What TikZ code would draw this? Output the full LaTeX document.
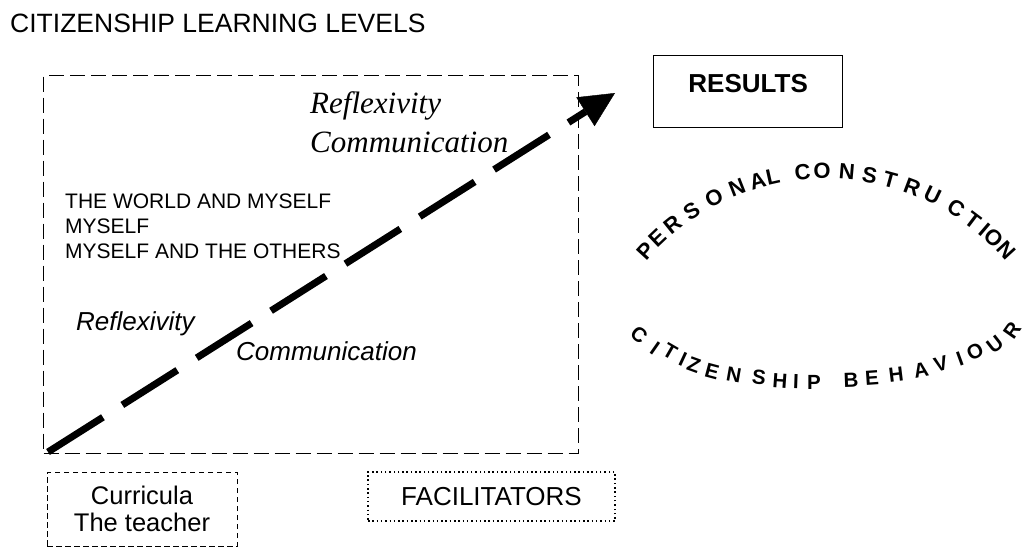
\documentclass[tikz,border=0pt]{standalone}
\usepackage{fontspec}
\setmainfont{Liberation Sans}
\newfontfamily\timesfont{Liberation Serif}
\usetikzlibrary{arrows.meta}

\begin{document}
\begin{tikzpicture}[x=1pt,y=1pt,
    txt/.style={inner sep=0pt,anchor=base west},
    levelbox/.style={draw,line width=1.3pt,dash pattern=on 15pt off 6pt},
    persletter/.style={inner sep=0pt,font=\bfseries\fontsize{22}{24}\selectfont},
    behletter/.style={inner sep=0pt,font=\bfseries\fontsize{20.5}{22}\selectfont}]
  \useasboundingbox (0,0) rectangle (1028,-547);

  \node[txt,font=\fontsize{26.5}{30}\selectfont] (title) at (10,-32) {CITIZENSHIP LEARNING LEVELS};

  \node[levelbox,minimum width=535,minimum height=378,anchor=north west] (levels) at (43,-75) {};

  \node[txt,align=left,font=\timesfont\itshape\fontsize{31}{39}\selectfont] (reflhi) at (310,-152) {Reflexivity\\Communication};
  \node[txt,align=left,font=\fontsize{21}{25}\selectfont] (world) at (65,-258) {THE WORLD AND MYSELF\\MYSELF\\MYSELF AND THE OTHERS};
  \node[txt,font=\itshape\fontsize{26}{30}\selectfont] (refllo) at (76,-330) {Reflexivity};
  \node[txt,font=\itshape\fontsize{26}{30}\selectfont] (commlo) at (236,-360) {Communication};

  \coordinate (lvlstart) at (48,-452);
  \coordinate (lvltip) at (615,-93);
  \draw[line width=7pt,dash pattern=on 65pt off 23pt,
    -{Triangle[length=35pt,width=34pt,line width=0.4pt]}] (lvlstart) -- (lvltip);

  \node[draw,line width=1.3pt,minimum width=189,inner sep=0pt,text height=37pt,text depth=35pt,
    anchor=north west,font=\bfseries\fontsize{26}{30}\selectfont] (results) at (653,-55) {RESULTS};

  \node[draw,line width=1pt,dash pattern=on 5.5pt off 3.5pt,minimum width=190,minimum height=74,
    align=center,font=\fontsize{25.5}{27}\selectfont] (curricula) at (142,-509) {Curricula\\The teacher};
  \node[draw,line width=1.5pt,dash pattern=on 1.5pt off 2.8pt,minimum width=247,minimum height=49,
    font=\fontsize{26}{30}\selectfont] (facil) at (491.5,-496.5) {FACILITATORS};

  \coordinate (pcc) at (826,-415);
  \foreach \ch/\a [count=\i] in {P/137.6,E/133.5,R/128.8,S/123.4,O/117.3,N/111.4,A/106.3,L/102.6,
      C/95.5,O/90.9,N/85.1,S/79.7,T/74.8,R/69.3,U/64.1,C/57.8,T/53.0,I/49.5,O/46.6,N/42.4}
    \node[persletter,rotate=\a-90] (pers\i) at ([shift={(\a:244)}]pcc) {\ch};

  \foreach \ch/\x/\y/\a [count=\i] in {C/639/335/-40,I/655/348/-35,T/670/352/-30,I/683/359/-25,
      Z/694/365/-20,E/712/371/-15,N/734/375/-10,S/759/377/-7,H/780/381/-4,I/796/382/-2,P/814/382/0,
      B/851/380/2,E/872/378/4,H/896/375/7,A/921/370/11,V/941/364/15,I/960/359/20,O/975/352/27,
      U/995/344/38,R/1012/330/55}
    \node[behletter,rotate=\a] (beh\i) at (\x,-\y) {\ch};
\end{tikzpicture}
\end{document}
